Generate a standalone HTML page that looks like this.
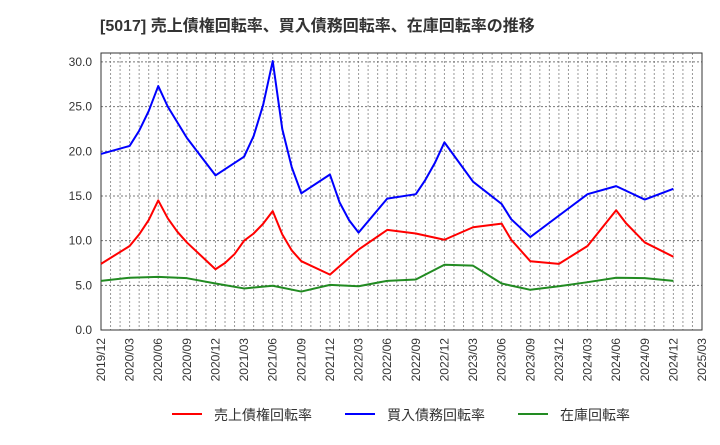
<!DOCTYPE html>
<html><head><meta charset="utf-8"><style>
body{margin:0;background:#fff;width:720px;height:440px;overflow:hidden;font-family:"Liberation Sans","Noto Sans CJK JP",sans-serif}
</style></head><body>
<svg id="chart" width="720" height="440" xmlns="http://www.w3.org/2000/svg" font-family="Liberation Sans, Noto Sans CJK JP, sans-serif">
<text x="100" y="31" font-size="16" font-weight="bold" fill="#333">[5017]  売上債権回転率、買入債務回転率、在庫回転率の推移</text>
<g id="grid"></g><g id="axes"></g><g id="series"></g><g id="legend"></g>
</svg>
<script>
const xTickLabels=["2019/12","2020/03","2020/06","2020/09","2020/12","2021/03","2021/06","2021/09","2021/12","2022/03","2022/06","2022/09","2022/12","2023/03","2023/06","2023/09","2023/12","2024/03","2024/06","2024/09","2024/12","2025/03"];
const yTicks=[0,5,10,15,20,25,30];
const redMonths=[0,3,4,5,6,7,8,9,12,13,14,15,16,17,18,19,20,21,24,27,30,33,36,39,42,43,45,48,51,54,55,57,60];
const redVals=[7.4,9.4,10.7,12.3,14.5,12.5,11.0,9.8,6.8,7.5,8.5,10.0,10.8,11.9,13.3,10.7,8.9,7.7,6.2,9.0,11.2,10.8,10.1,11.5,11.9,10.1,7.7,7.4,9.4,13.4,12.0,9.8,8.2];
const blueMonths=[0,3,4,5,6,7,9,12,15,16,17,18,19,20,21,24,25,26,27,30,33,34,35,36,39,42,43,45,48,51,54,57,60];
const blueVals=[19.7,20.6,22.3,24.5,27.3,25.0,21.5,17.3,19.4,21.7,25.2,30.1,22.5,18.2,15.3,17.4,14.3,12.3,10.9,14.7,15.2,16.8,18.7,21.0,16.6,14.1,12.4,10.4,12.8,15.2,16.1,14.6,15.8];
const greenMonths=[0,3,6,9,12,15,18,21,24,27,30,33,36,39,42,45,48,51,54,57,60];
const greenVals=[5.5,5.85,5.95,5.8,5.2,4.65,4.95,4.3,5.05,4.9,5.5,5.65,7.3,7.2,5.2,4.5,4.9,5.35,5.85,5.8,5.5];
const seriesNames=["売上債権回転率","買入債務回転率","在庫回転率"];
const L=101,R=702,T=53,B=330,YMAX=31;
const xs=m=>L+m*(R-L)/63, ys=v=>B-v*(B-T)/YMAX;
const NS="http://www.w3.org/2000/svg";
function mk(tag,attrs,parent){const e=document.createElementNS(NS,tag);for(const k in attrs)e.setAttribute(k,attrs[k]);parent.appendChild(e);return e;}
const grid=document.getElementById('grid'),axes=document.getElementById('axes'),ser=document.getElementById('series'),leg=document.getElementById('legend');
for(let m=1;m<63;m++){const l=mk('line',{x1:xs(m),x2:xs(m),y1:T,y2:B,stroke:'#999','stroke-width':1,'stroke-dasharray':'2,2'},grid);

}
yTicks.forEach(v=>{if(v>0){const l=mk('line',{x1:L,x2:R,y1:ys(v),y2:ys(v),stroke:'#777','stroke-width':1,'stroke-dasharray':'2,2'},grid);

}
const t=mk('text',{x:L-9,y:ys(v)+4,'text-anchor':'end','font-size':12,fill:'#333'},axes);t.textContent=v.toFixed(1);

});
xTickLabels.forEach((s,i)=>{const x=xs(i*3);const t=mk('text',{transform:`translate(${x+4},338) rotate(-90)`,'text-anchor':'end','font-size':12,fill:'#333'},axes);t.textContent=s;

});
const fr=mk('rect',{x:L,y:T,width:R-L,height:B-T,fill:'none',stroke:'#333','stroke-width':1},axes);


const defs=[[redMonths,redVals,'#ff0000','red-line'],[blueMonths,blueVals,'#0000ff','blue-line'],[greenMonths,greenVals,'#228b22','green-line']];
defs.forEach(([ms,vs,c,n])=>{const p=mk('polyline',{points:ms.map((m,i)=>xs(m)+','+ys(vs[i])).join(' '),fill:'none',stroke:c,'stroke-width':2,'stroke-linejoin':'round'},ser);

});
const lx=[172,345,518];
seriesNames.forEach((s,i)=>{const g=mk('g',{},leg);


mk('line',{x1:lx[i],x2:lx[i]+30,y1:414,y2:414,stroke:defs[i][2],'stroke-width':2},g);
const t=mk('text',{x:lx[i]+42,y:420,'font-size':14,fill:'#333'},g);t.textContent=s;});
</script>
</body></html>
